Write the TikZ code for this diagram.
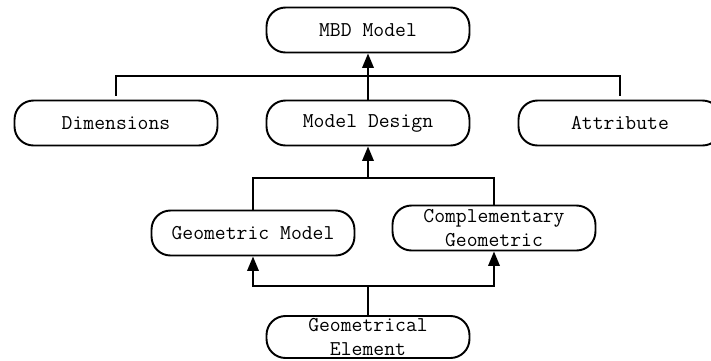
\documentclass[tikz,border=0pt]{standalone}
\usetikzlibrary{arrows.meta}
\begin{document}
\begin{tikzpicture}[x=0.02cm, y=-0.02cm, line width=1.1pt,
  box/.style={draw, rounded corners=0.38cm, minimum width=4.06cm, minimum height=0.9cm,
    inner sep=0pt, align=center, font=\ttfamily\fontsize{12}{13.6}\selectfont},
  >={Triangle[length=2.9mm,width=2.3mm]}]
\useasboundingbox (0,0) rectangle (711,360);
\node[box] (mbd) at (368,30) {MBD Model};
\node[box] (dim) at (116,123) {Dimensions};
\node[box] (design) at (368,123) {Model Design};
\node[box] (attr) at (620,123) {Attribute};
\node[box] (geo) at (253,233) {Geometric Model};
\node[box] (comp) at (494,228) {Complementary\\Geometric};
\node[box, minimum height=0.84cm] (elem) at (368,337) {Geometrical\\Element};
\coordinate (spine) at (368,76);
\coordinate (bar) at (368,178);
\coordinate (fork) at (368,286);
\draw[shorten <=0.08cm, shorten >=0.08cm] (dim.north) -- (dim.north |- spine) -- (attr.north |- spine) -- (attr.north);
\draw[->] (design.north) -- (mbd.south);
\draw (geo.north) -- (geo.north |- bar) -- (comp.north |- bar) -- (comp.north);
\draw[->] (bar) -- (design.south);
\draw[<->] (geo.south) -- (geo.south |- fork) -- (comp.south |- fork) -- (comp.south);
\draw (elem.north) -- (fork);
\end{tikzpicture}
\end{document}
